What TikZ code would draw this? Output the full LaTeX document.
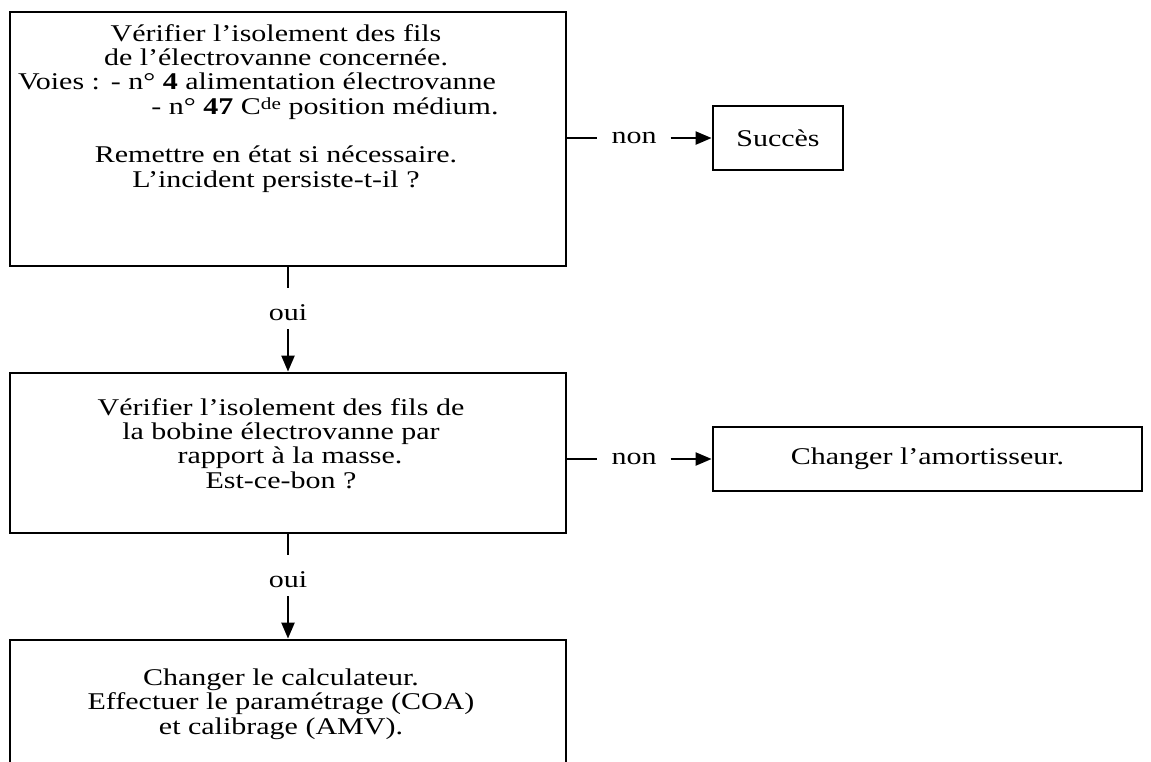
\documentclass[tikz,border=0pt]{standalone}
\usepackage{fontspec}
\setmainfont[FakeStretch=1.25]{Liberation Serif}
\usetikzlibrary{arrows.meta}

\begin{document}
\begin{tikzpicture}[x=1pt, y=-1pt,
    every node/.style={font=\fontsize{24}{24.3}\selectfont},
    box/.style={draw, line width=2.8pt, inner sep=0pt},
    txt/.style={align=center, inner sep=0pt},
    lab/.style={inner xsep=14pt, inner ysep=9pt},
    wire/.style={line width=2.2pt},
    arr/.style={wire, -{Triangle[length=16pt,width=13pt]}}]

    \useasboundingbox (0,0) rectangle (1151,761);
    \clip (0,0) rectangle (1151,761);

    % checks, one under the other
    \node[box, minimum width=556pt, minimum height=254pt] (b1) at (288,139) {};
    \node[box, minimum width=556pt, minimum height=160pt] (b2) at (288,453) {};
    \node[box, minimum width=556pt, minimum height=160pt] (b3) at (288,720) {};

    % base of a multi-line node = baseline of its last line
    \node[txt, anchor=base] (t1) at (276,187) {Vérifier l’isolement des fils\\
        de l’électrovanne concernée.\\
        Voies :\hspace{0.45em}- n° \textbf{4} alimentation électrovanne\hspace*{38pt}\null\\
        \hspace*{98pt}- n° \textbf{47} C\raisebox{0.45ex}{\fontsize{17}{17}\selectfont de} position médium.\\[24.3pt]
        Remettre en état si nécessaire.\\
        L’incident persiste-t-il ?};

    \node[txt, anchor=base] (t2) at (281,488) {Vérifier l’isolement des fils de\\
        la bobine électrovanne par\\
        \hspace*{18pt}rapport à la masse.\\
        Est-ce-bon ?};

    \node[txt, anchor=base] (t3) at (281,734) {Changer le calculateur.\\
        Effectuer le paramétrage (COA)\\
        et calibrage (AMV).};

    % outcomes on the right
    \node[box, minimum width=130pt, minimum height=64pt] (s1) at (778,138) {Succès};
    \node[box, minimum width=429pt, minimum height=64pt] (a1) at (927.5,459) {Changer l’amortisseur.};

    % oui: down to the next check
    \node[lab, anchor=base] (oui1) at (288,320) {oui};
    \draw[wire, shorten >=7pt] (b1.south) -- (oui1.north);
    \draw[arr] (oui1.south) -- (b2.north);

    \node[lab, anchor=base] (oui2) at (288,587) {oui};
    \draw[wire, shorten >=7pt] (b2.south) -- (oui2.north);
    \draw[arr] (oui2.south) -- (b3.north);

    % non: across to the outcome
    \node[lab] (non1) at (634,138) {non};
    \draw[wire] (b1.east |- non1) -- (non1.west);
    \draw[arr] (non1.east) -- (s1.west);

    \node[lab] (non2) at (634,459) {non};
    \draw[wire] (b2.east |- non2) -- (non2.west);
    \draw[arr] (non2.east) -- (a1.west);

\end{tikzpicture}
\end{document}
